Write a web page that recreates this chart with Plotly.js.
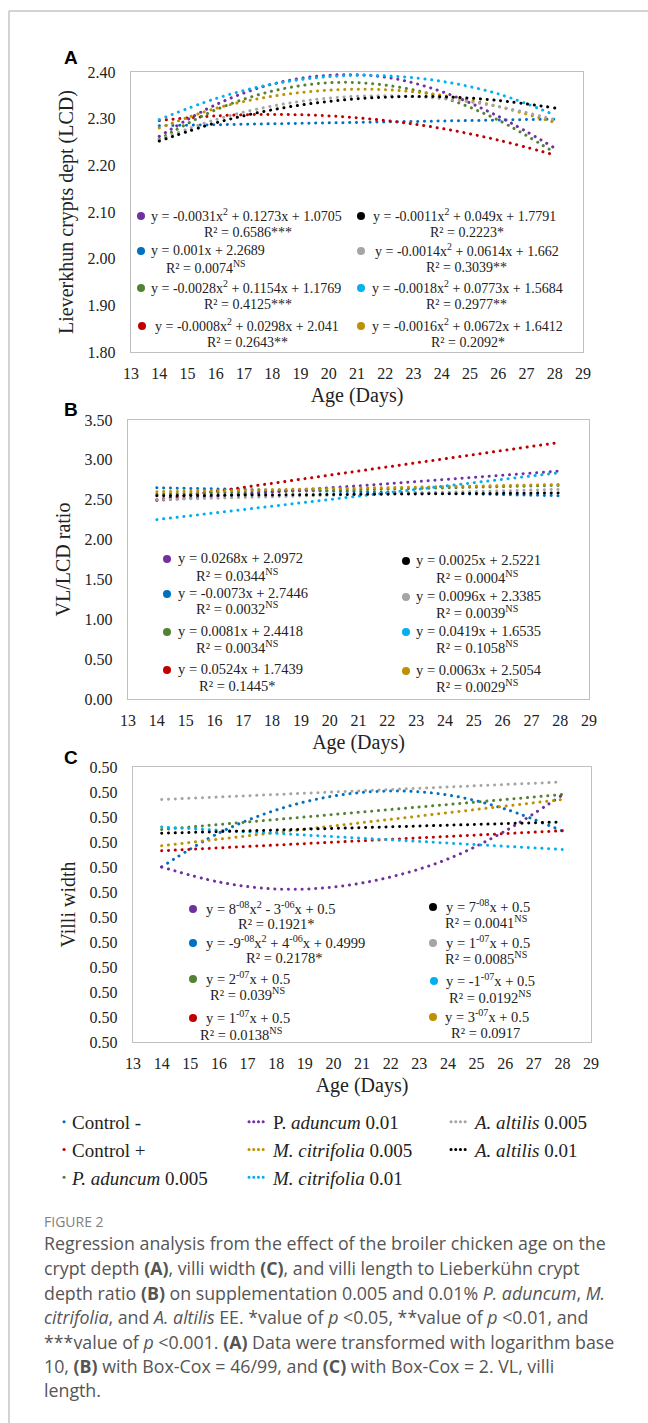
<!DOCTYPE html>
<html><head><meta charset="utf-8">
<script src="https://cdn.plot.ly/plotly-3.0.1.min.js"></script>
<style>html,body{margin:0;padding:0;background:#fff;}#chart{width:648px;height:1423px;}
path.js-line{stroke-linecap:round !important;}
g.legend .legendlines path.js-line{d:path("M32,0h0.1");}
g.legend2 .legendlines path.js-line,g.legend3 .legendlines path.js-line{d:path("M16,0h16");stroke-dasharray:0.1px,4.6px !important;}
</style>
</head><body><div id="chart"></div>
<script>
const W = 648, H = 1423;

// ---------- series ----------
const seriesNames = ['Control -', 'Control +', '<i>P. aduncum</i> 0.005', 'P. <i>aduncum</i> 0.01',
  '<i>M. citrifolia</i> 0.005', '<i>M. citrifolia</i> 0.01', '<i>A. altilis</i> 0.005', '<i>A. altilis</i> 0.01'];
const seriesColors = ['#0070C0', '#C00000', '#548235', '#7030A0', '#BF9000', '#00B0F0', '#A5A5A5', '#000000'];
const curveDays = [14, 16, 18, 20, 22, 24, 26, 28];
const lineDays = [14, 28];

// ---------- Panel A: Lieberkuhn crypt depth (log10) ----------
const lcdControlMinus = [2.285, 2.299];
const lcdControlPlus = [2.296, 2.306, 2.309, 2.306, 2.296, 2.279, 2.254, 2.222];
const lcdPad005 = [2.256, 2.319, 2.359, 2.377, 2.372, 2.346, 2.297, 2.227];
const lcdPad01 = [2.262, 2.330, 2.374, 2.393, 2.389, 2.358, 2.305, 2.237];
const lcdMc005 = [2.280, 2.322, 2.348, 2.361, 2.362, 2.350, 2.326, 2.292];
const lcdMc01 = [2.298, 2.343, 2.374, 2.390, 2.392, 2.380, 2.353, 2.308];
const lcdAa005 = [2.255, 2.298, 2.327, 2.344, 2.349, 2.343, 2.326, 2.298];
const lcdAa01 = [2.252, 2.291, 2.319, 2.337, 2.346, 2.347, 2.339, 2.323];

// ---------- Panel B: VL/LCD ratio ----------
const vlControlMinus = [2.65, 2.55];
const vlControlPlus = [2.50, 3.22];
const vlPad005 = [2.57, 2.68];
const vlPad01 = [2.49, 2.86];
const vlMc005 = [2.60, 2.69];
const vlMc01 = [2.25, 2.84];
const vlAa005 = [2.50, 2.63];
const vlAa01 = [2.55, 2.585];

// ---------- Panel C: villi width (Box-Cox) ----------
const vwControlMinus = [0.500040, 0.5000672, 0.5000856, 0.5000968, 0.5001008, 0.5000976, 0.5000864, 0.5000688];
const vwControlPlus = [0.500053, 0.500069];
const vwPad005 = [0.500070, 0.500098];
const vwPad01 = [0.500040, 0.500028, 0.5000224, 0.500024, 0.500032, 0.5000464, 0.5000688, 0.5000976];
const vwMc005 = [0.500057, 0.500094];
const vwMc01 = [0.500072, 0.500054];
const vwAa005 = [0.500094, 0.500108];
const vwAa01 = [0.500067, 0.500076];

// ---------- tick labels / titles ----------
const ageTitle = 'Age (Days)';
const yTitleA = 'Lieverkhun crypts dept (LCD)';
const yTitleB = 'VL/LCD ratio';
const yTitleC = 'Villi width';

// ---------- trendline equation labels ----------
const eqA = [
  ['y = -0.0031x<sup>2</sup> + 0.1273x + 1.0705', 'R² = 0.6586***'],
  ['y = 0.001x + 2.2689', 'R² = 0.0074<sup>NS</sup>'],
  ['y = -0.0028x<sup>2</sup> + 0.1154x + 1.1769', 'R² = 0.4125***'],
  ['y = -0.0008x<sup>2</sup> + 0.0298x + 2.041', 'R² = 0.2643**'],
  ['y = -0.0011x<sup>2</sup> + 0.049x + 1.7791', 'R² = 0.2223*'],
  ['y = -0.0014x<sup>2</sup> + 0.0614x + 1.662', 'R² = 0.3039**'],
  ['y = -0.0018x<sup>2</sup> + 0.0773x + 1.5684', 'R² = 0.2977**'],
  ['y = -0.0016x<sup>2</sup> + 0.0672x + 1.6412', 'R² = 0.2092*']
];
const eqB = [
  ['y = 0.0268x + 2.0972', 'R² = 0.0344<sup>NS</sup>'],
  ['y = -0.0073x + 2.7446', 'R² = 0.0032<sup>NS</sup>'],
  ['y = 0.0081x + 2.4418', 'R² = 0.0034<sup>NS</sup>'],
  ['y = 0.0524x + 1.7439', 'R² = 0.1445*'],
  ['y = 0.0025x + 2.5221', 'R² = 0.0004<sup>NS</sup>'],
  ['y = 0.0096x + 2.3385', 'R² = 0.0039<sup>NS</sup>'],
  ['y = 0.0419x + 1.6535', 'R² = 0.1058<sup>NS</sup>'],
  ['y = 0.0063x + 2.5054', 'R² = 0.0029<sup>NS</sup>']
];
const eqC = [
  ['y = 8<sup>-08</sup>x<sup>2</sup> - 3<sup>-06</sup>x + 0.5', 'R² = 0.1921*'],
  ['y = -9<sup>-08</sup>x<sup>2</sup> + 4<sup>-06</sup>x + 0.4999', 'R² = 0.2178*'],
  ['y = 2<sup>-07</sup>x + 0.5', 'R² = 0.039<sup>NS</sup>'],
  ['y = 1<sup>-07</sup>x + 0.5', 'R² = 0.0138<sup>NS</sup>'],
  ['y = 7<sup>-08</sup>x + 0.5', 'R² = 0.0041<sup>NS</sup>'],
  ['y = 1<sup>-07</sup>x + 0.5', 'R² = 0.0085<sup>NS</sup>'],
  ['y = -1<sup>-07</sup>x + 0.5', 'R² = 0.0192<sup>NS</sup>'],
  ['y = 3<sup>-07</sup>x + 0.5', 'R² = 0.0917']
];
// colour of each equation label (same order as eq arrays)
const eqColors = ['#7030A0', '#0070C0', '#548235', '#C00000', '#000000', '#A5A5A5', '#00B0F0', '#BF9000'];

const captionLines = [
  'Regression analysis from the effect of the broiler chicken age on the',
  'crypt depth <b>(A)</b>, villi width <b>(C)</b>, and villi length to Lieberkühn crypt',
  'depth ratio <b>(B)</b> on supplementation 0.005 and 0.01% <i>P. aduncum</i>, <i>M.</i>',
  '<i>citrifolia</i>, and <i>A. altilis</i> EE. *value of <i>p</i> &lt;0.05, **value of <i>p</i> &lt;0.01, and',
  '***value of <i>p</i> &lt;0.001. <b>(A)</b> Data were transformed with logarithm base',
  '10, <b>(B)</b> with Box-Cox = 46/99, and <b>(C)</b> with Box-Cox = 2. VL, villi',
  'length.'
];

// ---------- helpers ----------
const px = v => v / W;
const py = v => 1 - v / H;
const SERIF = 'Liberation Serif';
const TXT = '#222222';
const DASH = '0.1px,6.7px';

const panelA = [lcdControlMinus, lcdControlPlus, lcdPad005, lcdPad01, lcdMc005, lcdMc01, lcdAa005, lcdAa01];
const panelB = [vlControlMinus, vlControlPlus, vlPad005, vlPad01, vlMc005, vlMc01, vlAa005, vlAa01];
const panelC = [vwControlMinus, vwControlPlus, vwPad005, vwPad01, vwMc005, vwMc01, vwAa005, vwAa01];
const legendOf = ['legend', 'legend', 'legend', 'legend2', 'legend2', 'legend2', 'legend3', 'legend3'];

const traces = [];
function addPanel(vals, xa, ya, withLegend) {
  vals.forEach((ys, i) => {
    traces.push({
      x: ys.length === 2 ? lineDays : curveDays,
      y: ys, xaxis: xa, yaxis: ya, type: 'scatter', mode: 'lines',
      name: seriesNames[i], legend: legendOf[i], showlegend: withLegend,
      line: { color: seriesColors[i], width: 3, dash: DASH, shape: ys.length === 2 ? 'linear' : 'spline', smoothing: 1 },
      hoverinfo: 'skip'
    });
  });
}
addPanel(panelA, 'x', 'y', true);
addPanel(panelB, 'x2', 'y2', false);
addPanel(panelC, 'x3', 'y3', false);

const annotations = [];
const shapes = [];
function txt(x, y, text, size, opts) {
  annotations.push(Object.assign({
    xref: 'paper', yref: 'paper', x: px(x), y: py(y), text: text, showarrow: false,
    xanchor: 'left', yanchor: 'middle', font: { family: SERIF, size: size, color: TXT }
  }, opts || {}));
}
function dot(x, y, color) {
  shapes.push({ type: 'circle', xref: 'paper', yref: 'paper', xsizemode: 'pixel', ysizemode: 'pixel',
    xanchor: px(x), yanchor: py(y), x0: -4, x1: 4, y0: -4, y1: 4, fillcolor: color, line: { width: 0 } });
}
// equations: layout [dotX, textX, eqY, r2Y, r2CenterX]
function eqBlock(eqs, pos, size) {
  eqs.forEach((e, i) => {
    const p = pos[i];
    dot(p[0], p[2] + 1, eqColors[i]);
    txt(p[1], p[2], e[0], size);
    txt(p[4], p[3], e[1], size, { xanchor: 'center' });
  });
}
eqBlock(eqA, [
  [141, 149, 215, 232, 248], [141, 149, 250, 267, 205], [141, 149, 287, 304, 248], [142, 153, 325, 342, 247],
  [361, 371, 215, 232, 467], [361, 373, 250, 267, 466], [361, 370, 287, 304, 466], [361, 370, 325, 342, 468]
], 14);
eqBlock(eqB, [
  [167, 176, 558, 575, 237], [167, 176, 593, 608, 237], [167, 176, 631, 647, 237], [167, 176, 669, 686, 237],
  [406, 414, 560, 577, 477], [406, 414, 596, 612, 477], [406, 414, 631, 647, 477], [406, 414, 670, 686, 477]
], 14.5);
eqBlock(eqC, [
  [193, 204, 908, 924, 276], [193, 204, 942, 958, 284], [193, 204, 978, 994, 247], [193, 204, 1017, 1034, 241],
  [433, 444, 906, 922, 486], [433, 444, 942, 958, 486], [434, 444, 980, 997, 490], [433, 443, 1016, 1033, 485]
], 14.5);

// panel letters
[['A', 57.5], ['B', 409.5], ['C', 757]].forEach(l => {
  txt(70.5, l[1], '<b>' + l[0] + '</b>', 19, { xanchor: 'center', font: { family: 'Liberation Sans', size: 19, color: '#000' } });
});

// caption
txt(42, 1221, 'FIGURE 2', 14, { font: { family: 'Open Sans', size: 14, color: '#808080' } });
const capY = [1243.3, 1268, 1292.5, 1317, 1341.5, 1365.7, 1389.5];
captionLines.forEach((c, i) => txt(42, capY[i], c, 17.8, { font: { family: 'Open Sans', size: 17.8, color: '#555555' } }));

// figure border (top and left)
shapes.push({ type: 'line', xref: 'paper', yref: 'paper', x0: px(9), x1: 1.01, y0: py(11), y1: py(11), line: { color: '#c4c4c4', width: 1.5 } });
shapes.push({ type: 'line', xref: 'paper', yref: 'paper', x0: px(9), x1: px(9), y0: py(11), y1: -0.01, line: { color: '#c4c4c4', width: 1.5 } });

function xAx(dom, anchor) {
  return { domain: dom, anchor: anchor, range: [13, 29], tick0: 13, dtick: 1, showgrid: false, zeroline: false,
    showline: true, mirror: true, linecolor: '#c0c0c0', linewidth: 1.2, ticks: '', ticklabelstandoff: 7,
    tickfont: { family: SERIF, size: 16, color: TXT },
    title: { text: ageTitle, font: { family: SERIF, size: 20, color: TXT }, standoff: 6 } };
}
function yAx(dom, anchor, range, dtick, title, tick0) {
  return { domain: dom, anchor: anchor, range: range, dtick: dtick, tick0: tick0, tickformat: '.2f',
    showgrid: false, zeroline: false, showline: true, mirror: true, linecolor: '#c0c0c0', linewidth: 1.2,
    ticks: '', ticklabelstandoff: 11, tickfont: { family: SERIF, size: 16, color: TXT },
    title: { text: title, font: { family: SERIF, size: 20, color: TXT }, standoff: 8 } };
}

const legendBase = { xanchor: 'left', yanchor: 'top', bgcolor: 'rgba(0,0,0,0)', borderwidth: 0, itemwidth: 30,
  tracegroupgap: 0, font: { family: SERIF, size: 19, color: TXT }, orientation: 'v' };

const layout = {
  width: W, height: H, margin: { l: 0, r: 0, t: 0, b: 0 }, paper_bgcolor: '#fff', plot_bgcolor: '#fff',
  font: { family: SERIF, color: TXT },
  xaxis: xAx([px(131), px(583)], 'y'),
  yaxis: yAx([py(352), py(72)], 'x', [1.8, 2.4], 0.1, yTitleA, 1.8),
  xaxis2: xAx([px(128), px(589)], 'y2'),
  yaxis2: yAx([py(699), py(420)], 'x2', [0, 3.5], 0.5, yTitleB, 0),
  xaxis3: xAx([px(133), px(591)], 'y3'),
  yaxis3: yAx([py(1042), py(767)], 'x3', [0.4999, 0.50012], 0.00002, yTitleC, 0.4999),
  legend: Object.assign({}, legendBase, { x: px(32), y: py(1103) }),
  legend2: Object.assign({}, legendBase, { x: px(233), y: py(1103) }),
  legend3: Object.assign({}, legendBase, { x: px(435), y: py(1103) }),
  annotations: annotations, shapes: shapes, showlegend: true
};

Plotly.newPlot('chart', traces, layout, { displayModeBar: false, staticPlot: true });
</script></body></html>
